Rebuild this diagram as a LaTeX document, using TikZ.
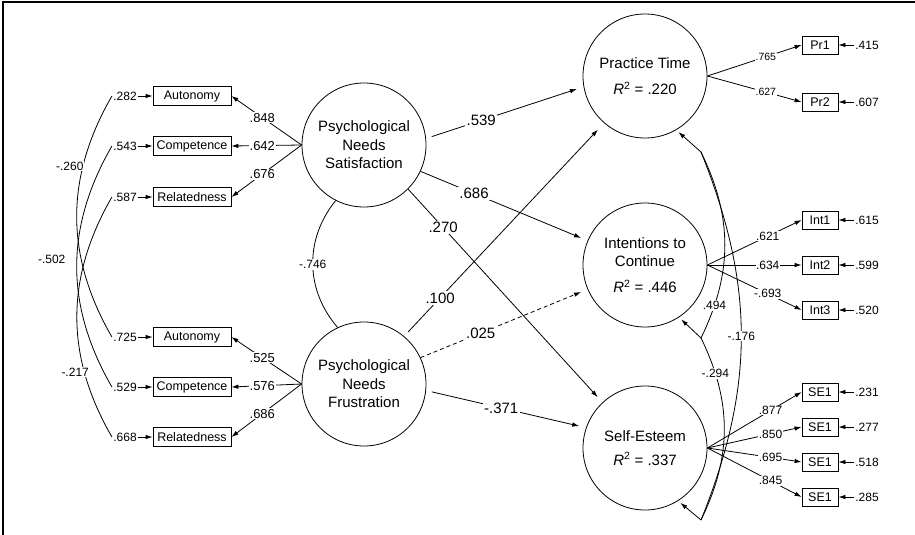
\documentclass[tikz,border=0pt]{standalone}
\usepackage{fontspec}
\setmainfont{Liberation Sans}
\usetikzlibrary{arrows.meta}

\begin{document}
\begin{tikzpicture}[x=1pt, y=-1pt, line width=0.8pt,
  >={Latex[length=7pt,width=4.5pt]},
  latent/.style={circle, draw, minimum size=124pt, inner sep=0pt, align=center,
    font=\fontsize{15}{18.5}\selectfont},
  obs/.style={rectangle, draw, minimum width=78pt, minimum height=19pt, inner sep=1pt,
    font=\fontsize{12.5}{14}\selectfont},
  sobs/.style={obs, minimum width=36pt, minimum height=18pt},
  err/.style={inner sep=1pt, font=\fontsize{12}{14}\selectfont},
  coef/.style={fill=white, inner sep=1.5pt, font=\fontsize{15}{17}\selectfont},
  load/.style={fill=white, inner sep=1pt, font=\fontsize{13}{15}\selectfont},
  rload/.style={fill=white, inner sep=0.5pt, font=\fontsize{12}{14}\selectfont},
  corr/.style={fill=white, inner sep=1pt, font=\fontsize{12}{14}\selectfont}]
  \useasboundingbox (0,0) rectangle (915,535);
  \draw[line width=1.2pt] (3,535) -- (3,2) -- (915,2);

  % Latent variables
  \node[latent] (S) at (364,145) {Psychological\\Needs\\Satisfaction};
  \node[latent] (F) at (364,384) {Psychological\\Needs\\Frustration};
  \node[latent] (P) at (645,76) {Practice Time\\[8pt]\textit{R}\textsuperscript{2} = .220};
  \node[latent] (I) at (645,265) {Intentions to\\Continue\\[7pt]\textit{R}\textsuperscript{2} = .446};
  \node[latent] (E) at (645,448) {Self-Esteem\\[5pt]\textit{R}\textsuperscript{2} = .337};

  % Indicators of satisfaction
  \node[obs] (S1) at (192,96) {Autonomy};
  \node[obs] (S2) at (192,146) {Competence};
  \node[obs] (S3) at (192,197) {Relatedness};
  % Indicators of frustration
  \node[obs] (F1) at (192,337) {Autonomy};
  \node[obs] (F2) at (192,387) {Competence};
  \node[obs] (F3) at (192,437) {Relatedness};

  % Errors, left side
  \node[err] (eS1) at (125,96) {.282};
  \node[err] (eS2) at (125,146) {.543};
  \node[err] (eS3) at (125,197) {.587};
  \node[err] (eF1) at (125,337) {.725};
  \node[err] (eF2) at (125,387) {.529};
  \node[err] (eF3) at (125,437) {.668};

  % Indicators of the outcomes
  \node[sobs] (P1) at (820,45) {Pr1};
  \node[sobs] (P2) at (820,102) {Pr2};
  \node[sobs] (I1) at (820,220) {Int1};
  \node[sobs] (I2) at (820,265) {Int2};
  \node[sobs] (I3) at (820,310) {Int3};
  \node[sobs] (E1) at (820,392) {SE1};
  \node[sobs] (E2) at (820,427) {SE1};
  \node[sobs] (E3) at (820,462) {SE1};
  \node[sobs] (E4) at (820,497) {SE1};

  % Errors, right side
  \node[err] (eP1) at (867,45) {.415};
  \node[err] (eP2) at (867,102) {.607};
  \node[err] (eI1) at (867,220) {.615};
  \node[err] (eI2) at (867,265) {.599};
  \node[err] (eI3) at (867,310) {.520};
  \node[err] (eE1) at (867,392) {.231};
  \node[err] (eE2) at (867,427) {.277};
  \node[err] (eE3) at (867,462) {.518};
  \node[err] (eE4) at (867,497) {.285};

  % Disturbances
  \coordinate (dP) at (701,152);
  \coordinate (dI) at (701,338);
  \coordinate (dE) at (701,520);

  % Error arrows
  \foreach \v in {S1,S2,S3,F1,F2,F3,P1,P2,I1,I2,I3,E1,E2,E3,E4}
    \draw[->] (e\v) -- (\v);

  % Loadings
  \draw[->] (S.west) -- node[load, pos=0.56] {.848} (S1.east);
  \draw[->] (S.west) -- node[load, pos=0.56] {.642} (S2.east);
  \draw[->] (S.west) -- node[load, pos=0.56] {.676} (S3.east);
  \draw[->] (F.west) -- node[load, pos=0.56] {.525} (F1.east);
  \draw[->] (F.west) -- node[load, pos=0.56] {.576} (F2.east);
  \draw[->] (F.west) -- node[load, pos=0.56] {.686} (F3.east);
  \draw[->] (P.east) -- node[rload, pos=0.62, font=\fontsize{10.5}{12}\selectfont] {.765} (P1.west);
  \draw[->] (P.east) -- node[rload, pos=0.62, font=\fontsize{10.5}{12}\selectfont] {.627} (P2.west);
  \draw[->] (I.east) -- node[rload, pos=0.64] {.621} (I1.west);
  \draw[->] (I.east) -- node[rload, pos=0.64] {.634} (I2.west);
  \draw[->] (I.east) -- node[rload, pos=0.64] {-.693} (I3.west);
  \draw[->] (E.east) -- node[rload, pos=0.67] {.877} (E1.west);
  \draw[->] (E.east) -- node[rload, pos=0.67] {.850} (E2.west);
  \draw[->] (E.east) -- node[rload, pos=0.67] {.695} (E3.west);
  \draw[->] (E.east) -- node[rload, pos=0.67] {.845} (E4.west);

  % Paths
  \draw[->, shorten <=6pt, shorten >=7pt] (S.6) -- node[coef, pos=0.35] {.539} (P.190);
  \draw[->, shorten >=7pt] (S.-25) -- node[coef, pos=0.32] {.686} (I.157);
  \draw[->, shorten >=7pt] (S.-45) -- node[coef, pos=0.18] {.270} (E.133);
  \draw[->, shorten <=6pt, shorten >=9pt] (F.50) -- node[coef, pos=0.18] {.100} (P.229);
  \draw[->, dash pattern=on 4pt off 3pt, shorten >=7pt] (F.25) -- node[coef, pos=0.36] {.025} (I.203);
  \draw[->, shorten <=6pt, shorten >=7pt] (F.-6) -- node[coef, pos=0.47] {-.371} (E.161);

  % Correlations
  \draw (S.243) to[bend right=40] node[corr] {-.746} (F.115);
  \draw (eS1.west) to[bend right=30] node[corr, pos=0.29, anchor=east, xshift=2pt] {-.260} (eF1.west);
  \draw (eS2.west) to[bend right=30] node[corr, pos=0.47, anchor=east, xshift=-10pt] {-.502} (eF2.west);
  \draw (eS3.west) to[bend right=30] node[corr, pos=0.73, anchor=east, xshift=6pt] {-.217} (eF3.west);
  \draw[->, shorten >=3pt] (dP) -- (P.300);
  \draw[->, shorten >=3pt] (dI) -- (I.303);
  \draw[->, shorten >=3pt] (dE) -- (E.302);
  \draw (dP) to[bend left=26] node[corr, pos=0.83] {.494} (dI);
  \draw (dI) to[bend left=26] node[corr, pos=0.19] {-.294} (dE);
  \draw (dP) to[bend left=22] node[corr, pos=0.5] {-.176} (dE);
\end{tikzpicture}
\end{document}
